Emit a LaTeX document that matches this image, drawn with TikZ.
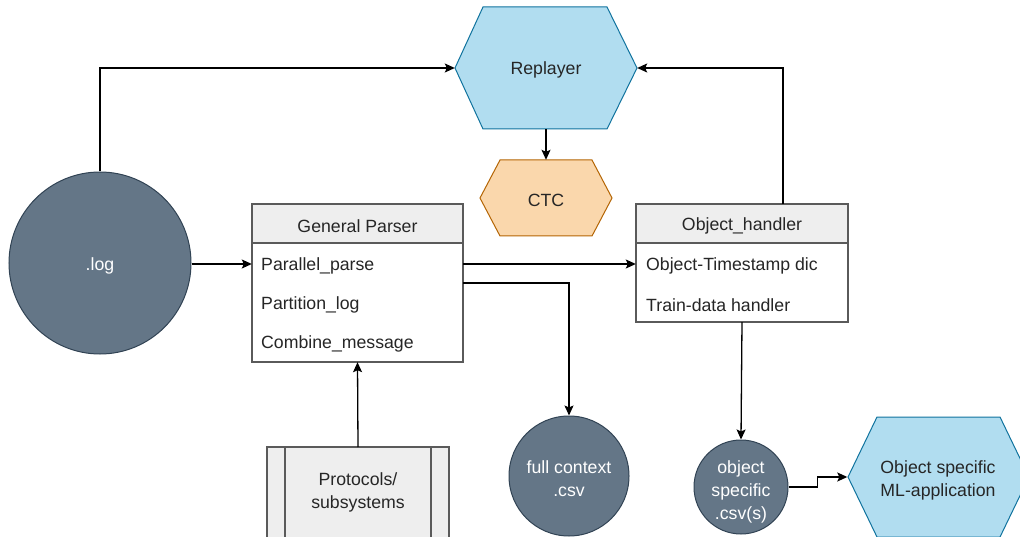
\documentclass[tikz,border=0pt]{standalone}
\usepackage{fontspec}
\setmainfont{Liberation Sans}
\usetikzlibrary{arrows.meta}
\definecolor{blobfill}{HTML}{647687}
\definecolor{blobline}{HTML}{314354}
\definecolor{hexblue}{HTML}{B1DDF0}
\definecolor{hexblueline}{HTML}{10739E}
\definecolor{hexorange}{HTML}{FAD7AC}
\definecolor{hexorangeline}{HTML}{B46504}
\definecolor{boxgray}{HTML}{EEEEEE}
\definecolor{boxline}{HTML}{5A5A5A}
\tikzset{
  every node/.style={font=\fontsize{17.7}{23}\selectfont, inner sep=0pt},
  blob/.style={circle, fill=blobfill, draw=blobline, line width=1pt},
  blobtext/.style={align=center, text=white},
  anchorbox/.style={rectangle, draw=none},
  label text/.style={align=center, text=black!85},
  rowtext/.style={anchor=west, text=black!85},
  boxedge/.style={draw=boxline, line width=1.3pt},
  conn/.style={draw=black, line width=1.3pt, -{Stealth[length=10pt,width=9pt,inset=2pt]}},
}
\begin{document}
\begin{tikzpicture}[x=1pt, y=-1pt]
\useasboundingbox (0,0) rectangle (1020,537);
\clip (0,0) rectangle (1020,537);

% hexagon outlines
\path[fill=hexblue, draw=hexblueline, line width=1pt]
  (455,68) -- (483,7) -- (607,7) -- (637,68) -- (607,129) -- (483,129) -- cycle;
\path[fill=hexorange, draw=hexorangeline, line width=1pt]
  (480,198) -- (500,160) -- (592,160) -- (612,198) -- (592,236) -- (500,236) -- cycle;
\path[fill=hexblue, draw=hexblueline, line width=1pt]
  (848,477) -- (877,417) -- (1000,417) -- (1029,477) -- (1000,537) -- (877,537) -- cycle;

\node[anchorbox, minimum width=182pt, minimum height=122pt] (rep) at (546,68) {};
\node[label text] (replabel) at (546,70) {Replayer};
\node[anchorbox, minimum width=132pt, minimum height=76pt] (ctc) at (546,198) {};
\node[label text] (ctclabel) at (546,200) {CTC};
\node[anchorbox, minimum width=181pt, minimum height=120pt] (ml) at (938,477) {};
\node[label text] (mllabel) at (938,480) {Object specific\\ML-application};

% data blobs
\node[blob, minimum size=182pt] (log) at (100,263) {};
\node[blobtext] (loglabel) at (100,266) {.log};
\node[blob, minimum size=120pt] (fc) at (569,476) {};
\node[blobtext] (fclabel) at (569,479) {full context\\.csv};
\node[blob, minimum size=94pt] (obj) at (741,487) {};
\node[blobtext] (objlabel) at (741,492) {object\\specific\\.csv(s)};

% General Parser box
\path[fill=white, boxedge] (252,204) rectangle (463,362);
\path[fill=boxgray, boxedge] (252,204) rectangle (463,243);
\node[anchorbox, minimum width=211pt, minimum height=158pt] (gp) at (357.5,283) {};
\node[label text] (gphead) at (357.5,226) {General Parser};
\node[rowtext] (gp1) at (261,266) {Parallel\_parse};
\node[rowtext] (gp2) at (261,305) {Partition\_log};
\node[rowtext] (gp3) at (261,344) {Combine\_message};
\coordinate (gprow1) at (261,264);

% Object_handler box
\path[fill=white, boxedge] (636,204) rectangle (848,322);
\path[fill=boxgray, boxedge] (636,204) rectangle (848,243);
\node[anchorbox, minimum width=212pt, minimum height=118pt] (oh) at (742,263) {};
\node[label text] (ohhead) at (742,226) {Object\_handler};
\node[rowtext] (oh1) at (646,266) {Object-Timestamp dic};
\node[rowtext] (oh2) at (646,305) {Train-data handler};
\coordinate (ohtop) at (783,204);

% Protocols/subsystems process box
\path[fill=boxgray, boxedge] (267,447) rectangle (449,560);
\draw[boxedge] (285,447) -- (285,560) (431,447) -- (431,560);
\node[anchorbox, minimum width=182pt, minimum height=0pt] (proto) at (358,447) {};
\node[label text] (protolabel) at (358,492) {Protocols/\\subsystems};

% connectors
\draw[conn] (log.north) |- (rep.west);
\draw[conn] (ohtop) |- (rep.east);
\draw[conn] (rep.south) -- (ctc.north);
\draw[conn] (log.east |- gprow1) -- (gp.west |- gprow1);
\draw[conn] (gp.east |- gprow1) -- (oh.west |- gprow1);
\draw[conn] (gp.east) -| (fc.north);
\draw[conn] (oh.south) -- (obj.north);
\draw[conn] (proto.center) -- (gp.south);
\draw[conn] (obj.east) -- ++(29,0) |- (ml.west);
\end{tikzpicture}
\end{document}
